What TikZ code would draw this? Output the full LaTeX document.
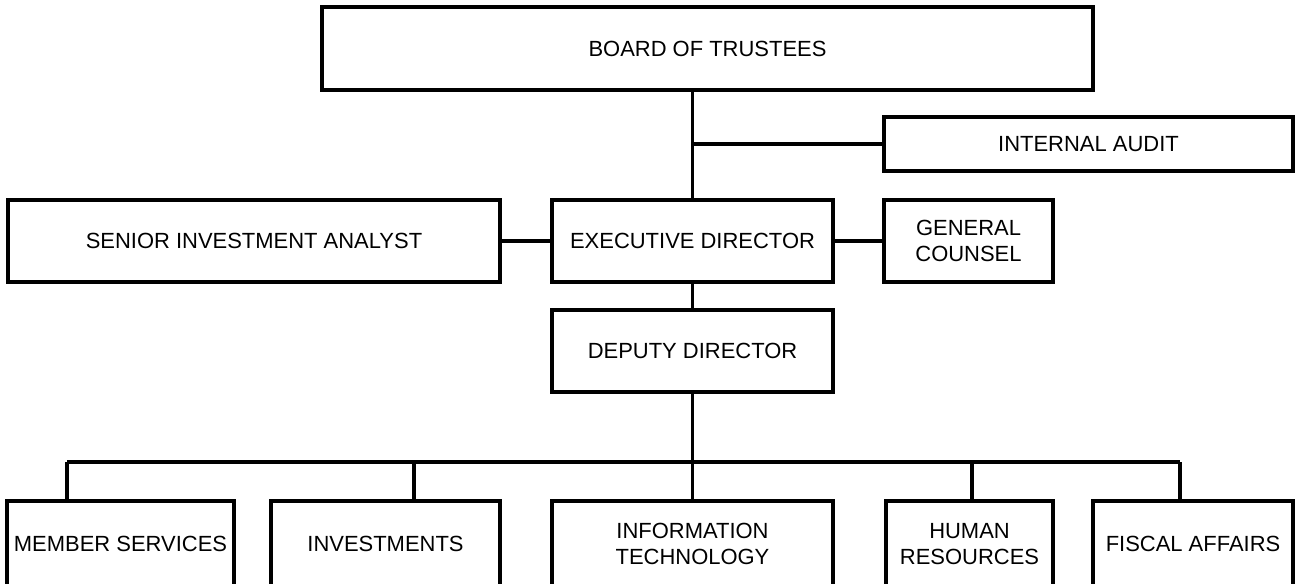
\documentclass[tikz,border=0pt]{standalone}
\usepackage{fontspec}
\setmainfont{Liberation Sans}
\usepackage{tikz}

\begin{document}
\begin{tikzpicture}[
      x=0.02cm, y=-0.02cm,
      unit/.style={rectangle, draw=black, line width=2pt, inner sep=2pt, align=center, font=\fontsize{12.5}{15}\selectfont},
      link/.style={draw=black, line width=2pt},
    ]
    \useasboundingbox (0,0) rectangle (1297,584);

    % Nodes
    \node[unit, minimum width=15.42cm, minimum height=1.66cm] (board) at (707.5,48.5) {BOARD OF TRUSTEES};
    \node[unit, minimum width=8.18cm, minimum height=1.08cm] (audit) at (1088.5,144) {INTERNAL AUDIT};
    \node[unit, minimum width=9.84cm, minimum height=1.64cm] (analyst) at (254,241) {SENIOR INVESTMENT ANALYST};
    \node[unit, minimum width=5.62cm, minimum height=1.64cm] (exec) at (692.5,241) {EXECUTIVE DIRECTOR};
    \node[unit, minimum width=3.38cm, minimum height=1.64cm] (counsel) at (968.5,241) {GENERAL\\COUNSEL};
    \node[unit, minimum width=5.62cm, minimum height=1.64cm] (deputy) at (692.5,351) {DEPUTY DIRECTOR};
    \node[unit, minimum width=4.54cm, minimum height=1.72cm] (member) at (120.5,544) {MEMBER SERVICES};
    \node[unit, minimum width=4.58cm, minimum height=1.72cm] (invest) at (385.5,544) {INVESTMENTS};
    \node[unit, minimum width=5.62cm, minimum height=1.72cm] (infotech) at (692.5,544) {INFORMATION\\TECHNOLOGY};
    \node[unit, minimum width=3.34cm, minimum height=1.72cm] (human) at (969.5,544) {HUMAN\\RESOURCES};
    \node[unit, minimum width=4.00cm, minimum height=1.72cm] (fiscal) at (1193,544) {FISCAL AFFAIRS};

    % Bus ends
    \coordinate (busL) at (67,462);
    \coordinate (busI) at (414,462);
    \coordinate (busH) at (972,462);
    \coordinate (busR) at (1180,462);

    % Lines
    \draw[link] (exec.north |- board.south) -- (exec.north);
    \draw[link] (audit.west -| exec.north) -- (audit.west);
    \draw[link] (analyst.east) -- (exec.west);
    \draw[link] (exec.east) -- (counsel.west);
    \draw[link] (exec.south) -- (deputy.north);
    \draw[link] (deputy.south) -- (infotech.north);
    \draw[link] (busL) -- (busR);
    \draw[link] (busL) -- (busL |- member.north);
    \draw[link] (busI) -- (busI |- invest.north);
    \draw[link] (busH) -- (busH |- human.north);
    \draw[link] (busR) -- (busR |- fiscal.north);
  \end{tikzpicture}
\end{document}
